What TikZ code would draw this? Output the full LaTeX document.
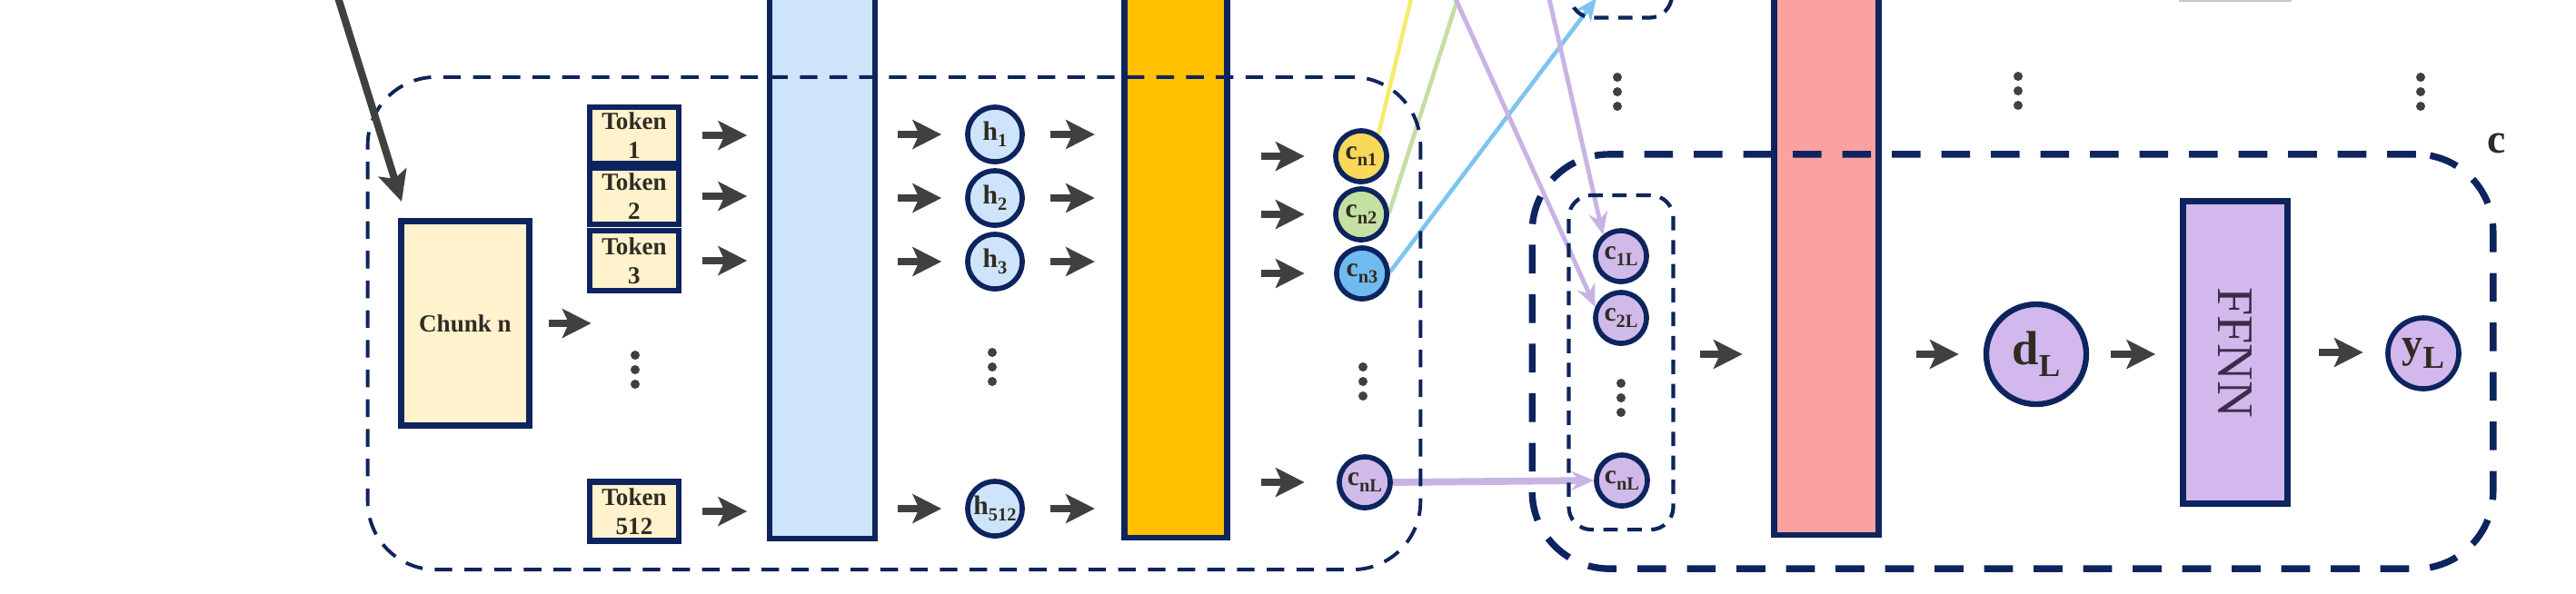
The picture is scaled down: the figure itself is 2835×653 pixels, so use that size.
\documentclass[tikz,border=0pt]{standalone}
\usepackage{fontspec}
\setmainfont{Liberation Serif}
\usepackage{graphicx}
\usetikzlibrary{arrows.meta,calc}
\pgfdeclarelayer{lines}
\pgfsetlayers{lines,main}
\definecolor{navy}{RGB}{14,36,94}
\definecolor{txt}{RGB}{48,44,36}
\definecolor{yellowf}{RGB}{255,242,204}
\definecolor{bluebar}{RGB}{206,228,250}
\definecolor{hfill}{RGB}{206,228,250}
\definecolor{orangebar}{RGB}{255,192,0}
\definecolor{cyel}{RGB}{250,216,90}
\definecolor{cgrn}{RGB}{196,224,162}
\definecolor{cblu}{RGB}{112,186,240}
\definecolor{cpur}{RGB}{208,186,234}
\definecolor{redbar}{RGB}{250,162,160}
\definecolor{lav}{RGB}{210,184,236}
\definecolor{arrgray}{RGB}{64,64,64}
\definecolor{lyel}{RGB}{245,236,110}
\definecolor{lgrn}{RGB}{196,222,164}
\definecolor{lblu}{RGB}{126,196,240}
\definecolor{lpur}{RGB}{200,180,228}
\newcommand\mysub[2]{#1\raisebox{-0.5ex}{\fontsize{5.8}{6}\selectfont #2}}
\newcommand\bigsub[2]{#1\raisebox{-0.55ex}{\fontsize{10}{11}\selectfont #2}}
\begin{document}
\begin{tikzpicture}[x=0.01cm,y=-0.01cm,
  box/.style={draw=navy, line width=1.8pt, rectangle, inner sep=0pt, text=txt, align=center,
    font=\fontsize{7.7}{9}\selectfont\bfseries},
  tokbox/.style={box, fill=yellowf, minimum width=0.98cm, minimum height=0.62cm},
  bar/.style={draw=navy, line width=1.8pt, rectangle, inner sep=0pt, minimum height=6.6cm, anchor=south},
  circ/.style={draw=navy, line width=1.6pt, circle, inner sep=0pt, minimum size=0.56cm, text=txt,
    font=\fontsize{8.4}{9}\selectfont\bfseries},
  hcirc/.style={circ, fill=hfill, minimum size=0.6cm},
  arr/.style={draw=arrgray, line width=2.5pt, -{Stealth[length=9pt,width=9pt,inset=2pt]}},
  bigarr/.style={draw=arrgray, line width=2.3pt, -{Stealth[length=9.5pt,width=9pt,inset=2pt]}},
  thindash/.style={draw=navy, line width=1.1pt, dash pattern=on 5.5pt off 3.8pt, rounded corners=0.75cm, inner sep=0pt},
  thickdash/.style={draw=navy, line width=2.1pt, dash pattern=on 9pt off 6.5pt, rounded corners=0.85cm, inner sep=0pt},
  innerdash/.style={draw=navy, line width=1.2pt, dash pattern=on 4.5pt off 3pt, rounded corners=0.25cm, inner sep=0pt},
  cline/.style={line width=1.3pt},
  pline/.style={draw=lpur, line width=1.4pt, -{Stealth[length=7pt,width=6pt]}},
  vdots/.pic={\foreach \d in {-16,0,16} \fill[arrgray] (0,\d) circle[radius=0.05cm];}
]
\useasboundingbox (0,0) rectangle (2835,653);
\clip (0,0) rectangle (2835,653);

% ---- bars (behind dashed groups)
\node[bar, fill=bluebar, minimum width=1.16cm] (bar1) at (905,596) {};
\node[bar, fill=orangebar, minimum width=1.13cm] (bar2) at (1294,595) {};
\node[bar, fill=redbar, minimum width=1.15cm] (bar3) at (2010,592) {};

% ---- dashed groups
\node[thindash, minimum width=11.58cm, minimum height=5.42cm] (grpA) at (984,356) {};
\node[thickdash, minimum width=10.57cm, minimum height=4.56cm] (grpC) at (2215,398) {};
\node[innerdash, minimum width=1.15cm, minimum height=3.68cm] (grpL) at (1784,399) {};
\node[innerdash, minimum width=1.12cm, minimum height=1.19cm] (grpTop) at (1784,-40) {};

% faint shadow at top of FFNN column
\node[fill=black!22, inner sep=0pt, minimum width=1.23cm, minimum height=0.025cm] (topshade) at (2460,1) {};

% ---- left part
\node[box, fill=yellowf, minimum width=1.41cm, minimum height=2.25cm] (chunk) at (512,356) {Chunk n};
\node[tokbox] (tok1) at (698,149) {Token\\1};
\node[tokbox] (tok2) at (698,216) {Token\\2};
\node[tokbox, minimum height=0.66cm] (tok3) at (698,287) {Token\\3};
\node[tokbox, minimum height=0.65cm] (tok512) at (698,563) {Token\\512};

\coordinate (srcA) at (371,-6);
\coordinate (tipA) at (442,222);
\draw[bigarr] (srcA) -- (tipA);

\draw[arr] ($(chunk.east)+(18,0)$) -- ++(47,0);
\foreach \t in {tok1,tok2,tok3,tok512}
  \draw[arr] ($(\t.east)+(23,0)$) -- ++(49,0);

\node[hcirc] (h1) at (1095,148) {\mysub{h}{1}};
\node[hcirc] (h2) at (1095,218) {\mysub{h}{2}};
\node[hcirc] (h3) at (1095,288) {\mysub{h}{3}};
\node[hcirc] (h512) at (1095,560) {\mysub{h}{512}};

\foreach \h in {h1,h2,h3,h512}{
  \draw[arr] ($(bar1.east|-\h)+(22,0)$) -- ++(48,0);
  \draw[arr] ($(\h.east)+(28,0)$) -- ++(49,0);
}

\node[circ, fill=cyel] (cn1) at (1498,172) {\mysub{c}{n1}};
\node[circ, fill=cgrn] (cn2) at (1498,236) {\mysub{c}{n2}};
\node[circ, fill=cblu] (cn3) at (1499,301) {\mysub{c}{n3}};
\node[circ, fill=cpur] (cnL) at (1502,531) {\mysub{c}{nL}};
\foreach \c in {cn1,cn2,cn3,cnL}
  \draw[arr] ($(bar2.east|-\c)+(34,0)$) -- ++(48,0);

\pic at (699,407) {vdots};
\pic at (1092,404) {vdots};
\pic at (1500,420) {vdots};

% ---- right part
\node[circ, fill=cpur] (c1L) at (1784,282) {\mysub{c}{1L}};
\node[circ, fill=cpur] (c2L) at (1784,350) {\mysub{c}{2L}};
\node[circ, fill=cpur] (cLn) at (1785,529) {\mysub{c}{nL}};
\pic at (1784,438) {vdots};
\pic at (1780,101) {vdots};
\pic at (2221,100) {vdots};
\pic at (2664,101) {vdots};

\node[circ, fill=lav, line width=1.8pt, minimum size=1.1cm, font=\fontsize{15}{16}\selectfont\bfseries] (dL) at (2241,390) {\bigsub{d}{L}};
\node[box, fill=lav, minimum width=1.15cm, minimum height=3.33cm, font=\fontsize{16}{17}\selectfont, text={rgb,255:red,60;green,44;blue,74}] (ffnn) at (2460,388) {\rotatebox{-90}{FFNN}};
\node[circ, fill=lav, minimum size=0.78cm, font=\fontsize{13}{14}\selectfont\bfseries] (yL) at (2667,389) {\bigsub{y}{L}};
\node[text=txt, font=\fontsize{13}{14}\selectfont\bfseries, inner sep=0pt] (lblc) at (2748,158) {c};

\draw[arr] ($(grpL.east|-dL)+(27,0)$) -- ++(47,0);
\draw[arr] ($(bar3.east|-dL)+(38,0)$) -- ++(47,0);
\draw[arr] ($(dL.east)+(24,0)$) -- ++(49,0);
\draw[arr] ($(ffnn.east)+(31,0)$) -- ++(49,0);

% ---- coloured connectors (on a layer behind the shapes)
\coordinate (yEnd) at (1555,-10);
\coordinate (gEnd) at (1607,-10);
\coordinate (bEnd) at (1757,-2);
\coordinate (pA) at (1598,-10);
\coordinate (pB) at (1703,-10);
\begin{pgfonlayer}{lines}
  \clip (0,0) rectangle (2835,653);
  \draw[cline, draw=lyel] (cn1.52) -- (yEnd);
  \draw[cline, draw=lgrn] (cn2.3) -- (gEnd);
  \draw[cline, draw=lblu, -{Stealth[length=7pt,width=6pt]}] (cn3.3) -- (bEnd);
  \draw[pline] (pA) -- (c2L.157);
  \draw[pline] (pB) -- (c1L.130);
  \draw[pline, line width=2.2pt] (cnL.east) -- (cLn.west);
\end{pgfonlayer}
\end{tikzpicture}
\end{document}
